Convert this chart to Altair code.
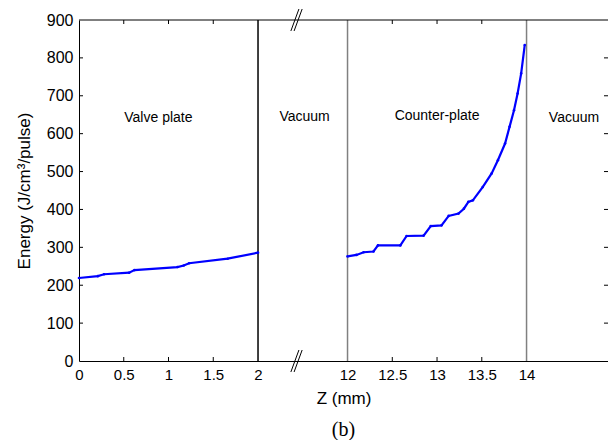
import altair as alt
import pandas as pd

# ---- data ----
valve_z = [0.0, 0.21, 0.28, 0.56, 0.62, 1.10, 1.17, 1.23, 1.66, 2.0]
valve_E = [219, 224, 229, 233, 240, 248, 252, 258, 270, 286]

counter_z = [12.0, 12.10, 12.18, 12.29, 12.34, 12.59, 12.66, 12.85, 12.93, 13.05,
             13.13, 13.24, 13.30, 13.35, 13.40, 13.51, 13.61, 13.68, 13.76, 13.81,
             13.86, 13.90, 13.94, 13.98]
counter_E = [276, 280, 287, 289, 305, 305, 330, 331, 356, 358,
             383, 389, 402, 420, 424, 459, 495, 530, 574, 618,
             662, 706, 759, 834]

boundary_z = [2, 12, 14]
boundary_color = ["#000000", "#808080", "#808080"]

region_text = ["Valve plate", "Vacuum", "Counter-plate", "Vacuum"]
region_u = [0.887, 2.52, 4.0, 5.53]
region_E = [641, 644, 646, 641]

x_tick_z = [0, 0.5, 1, 1.5, 2, 12, 12.5, 13, 13.5, 14]
inner_tick_z = [0.5, 1, 1.5, 12.5, 13, 13.5]
y_ticks = [0, 100, 200, 300, 400, 500, 600, 700, 800, 900]
inner_y_ticks = [100, 200, 300, 400, 500, 600, 700, 800]

BREAK_U = 2.43
X_MAX = 5.91


def z_to_u(z):
    # broken axis: 0..2 kept, 12..14 shifted to 3..5
    return z if z <= 2 else z - 9


W, H = 529, 341

curve = pd.DataFrame({
    "u": [z_to_u(z) for z in valve_z] + [z_to_u(z) for z in counter_z],
    "E": valve_E + counter_E,
    "seg": ["valve"] * len(valve_z) + ["counter"] * len(counter_z),
})
bounds = pd.DataFrame({"u": [z_to_u(z) for z in boundary_z], "c": boundary_color})
labels = pd.DataFrame({"u": region_u, "E": region_E, "t": region_text})
xt = pd.DataFrame({"u": [z_to_u(z) for z in inner_tick_z]})
yt = pd.DataFrame({"E": inner_y_ticks})
top = pd.DataFrame({"E": [900]})

slash_rows = []
for cy in (0, 900):
    for off in (-0.018, 0.018):
        slash_rows.append({"u": BREAK_U + off - 0.045, "u2": BREAK_U + off + 0.045,
                           "E": cy - 29, "E2": cy + 29})
slashes = pd.DataFrame(slash_rows)

x_scale = alt.Scale(domain=[0, X_MAX], nice=False, zero=False)
y_scale = alt.Scale(domain=[0, 900], nice=False, zero=False)

x_axis = alt.Axis(
    values=[z_to_u(z) for z in x_tick_z],
    labelExpr="'' + (datum.value <= 2 ? datum.value : datum.value + 9)",
    title="Z (mm)", grid=False, ticks=False, labelPadding=6, labelFontSize=15,
    titlePadding=8, labelOverlap=False, labelFlush=False,
)
y_axis = alt.Axis(
    values=y_ticks, title="Energy (J/cm³/pulse)", grid=False, ticks=False,
    labelPadding=6, labelFontSize=16, titlePadding=13, labelOverlap=False, labelFlush=False,
)

X = alt.X("u:Q", scale=x_scale, axis=x_axis)
Y = alt.Y("E:Q", scale=y_scale, axis=y_axis)

line = alt.Chart(curve).mark_line(color="#0000ff", strokeWidth=2.2).encode(
    x=X, y=Y, detail="seg:N")
pts = alt.Chart(curve).mark_point(color="#0000ff", filled=True, size=7, opacity=1).encode(
    x=X, y=Y)

vlines = alt.Chart(bounds).mark_rule(strokeWidth=1.5).encode(
    x=X, color=alt.Color("c:N", scale=None))

toprule = alt.Chart(top).mark_rule(color="black", strokeWidth=1).encode(y=Y)

text = alt.Chart(labels).mark_text(font="Liberation Sans", fontSize=14, color="black").encode(
    x=X, y=Y, text="t:N")

xt_bottom = alt.Chart(xt).mark_rule(color="black").encode(
    x=X, y=alt.value(H), y2=alt.value(H - 4))
xt_top = alt.Chart(xt).mark_rule(color="black").encode(
    x=X, y=alt.value(0), y2=alt.value(4))
yt_left = alt.Chart(yt).mark_rule(color="black").encode(
    y=Y, x=alt.value(0), x2=alt.value(4))
yt_right = alt.Chart(yt).mark_rule(color="black").encode(
    y=Y, x=alt.value(W - 4), x2=alt.value(W))

brk = alt.Chart(slashes).mark_rule(color="black", strokeWidth=1).encode(
    x=X, x2="u2:Q", y=Y, y2="E2:Q")

chart = alt.layer(
    line, vlines, toprule, xt_bottom, xt_top, yt_left, yt_right, pts, text, brk
).properties(
    width=W, height=H,
    autosize=alt.AutoSizeParams(type="none"),
    padding={"left": 71, "top": 12, "right": 0, "bottom": 79},
    title=alt.TitleParams("(b)", orient="bottom", font="Liberation Serif", fontSize=20,
                          fontWeight="normal", anchor="middle", frame="group",
                          offset=14, color="black"),
).configure_view(stroke=None).configure_axis(
    labelFont="Liberation Sans", labelColor="black",
    titleFont="Liberation Sans", titleFontSize=17, titleFontWeight="normal", titleColor="black",
    domainColor="black", domainWidth=1, labelOverlap=False,
)

chart.save("out.html", embed_options={"renderer": "svg", "actions": False})
